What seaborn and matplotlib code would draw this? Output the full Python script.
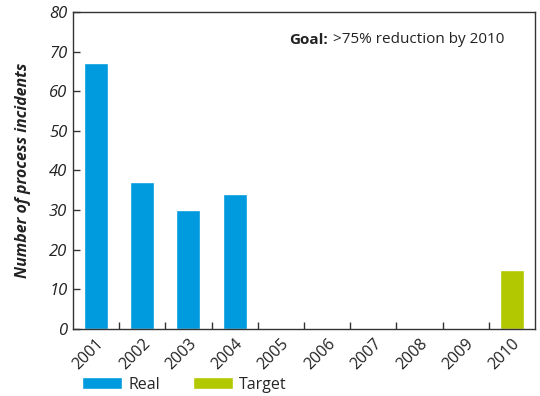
import matplotlib
matplotlib.use("Agg")
import matplotlib.pyplot as plt
import seaborn as sns
import pandas as pd
import numpy as np
from matplotlib.ticker import FixedLocator

years = ["2001", "2002", "2003", "2004", "2005", "2006", "2007", "2008", "2009", "2010"]
incidents = [67, 37, 30, 34, np.nan, np.nan, np.nan, np.nan, np.nan, 15]
kind = ["Real", "Real", "Real", "Real", "Real", "Real", "Real", "Real", "Real", "Target"]
y_ticks = [0, 10, 20, 30, 40, 50, 60, 70, 80]

palette = {"Real": "#009ADE", "Target": "#B2C800"}

sns.set_theme(style="white")
plt.rcParams["font.family"] = ["Open Sans", "DejaVu Sans"]

df = pd.DataFrame({"year": years, "incidents": incidents, "kind": kind})

fig = plt.figure(figsize=(5.4, 3.96), dpi=100)
ax = fig.add_axes([0.135, 0.169, 0.856, 0.801])

sns.barplot(data=df, x="year", y="incidents", hue="kind", order=years,
            hue_order=["Real", "Target"], palette=palette, dodge=False,
            width=0.52, saturation=1, ax=ax)

ax.set_xlim(-0.5, len(years) - 0.5)
ax.set_ylim(0, 80)
ax.set_yticks(y_ticks)
ax.set_yticklabels([str(t) for t in y_ticks], fontstyle="italic", fontsize=12, color="#222222")
ax.set_xticks(range(len(years)))
ax.set_xticklabels(years, rotation=45, ha="right", rotation_mode="anchor",
                   fontsize=11.5, color="#222222")
ax.xaxis.set_minor_locator(FixedLocator(np.arange(0.5, len(years) - 1, 1.0)))
ax.tick_params(axis="x", which="major", length=0, pad=5)
ax.tick_params(axis="x", which="minor", direction="in", length=5, width=1, color="#333333", bottom=True)
ax.tick_params(axis="y", direction="in", length=5, width=1, color="#333333", left=True, pad=4)

for s in ax.spines.values():
    s.set_visible(True)
    s.set_color("#333333")
    s.set_linewidth(1)

ax.set_xlabel("")
ax.set_ylabel("Number of process incidents", fontstyle="italic", fontweight="bold",
              fontsize=11.5, color="#222222", labelpad=13)

ax.text(0.468, 0.912, "Goal:", transform=ax.transAxes, fontsize=11, fontweight="bold",
        color="#222222", ha="left", va="center")
ax.text(0.562, 0.912, ">75% reduction by 2010", transform=ax.transAxes, fontsize=11,
        color="#222222", ha="left", va="center")

handles, labels = ax.get_legend_handles_labels()
if ax.get_legend() is not None:
    ax.get_legend().remove()
fig.legend(handles, labels, loc="center left", bbox_to_anchor=(82 / 540, 0.028),
           ncol=2, frameon=False, fontsize=11.5, handlelength=2.5, handleheight=0.8,
           handletextpad=0.4, columnspacing=2.05, borderaxespad=0, borderpad=0)

fig.savefig("out.png", dpi=100)
